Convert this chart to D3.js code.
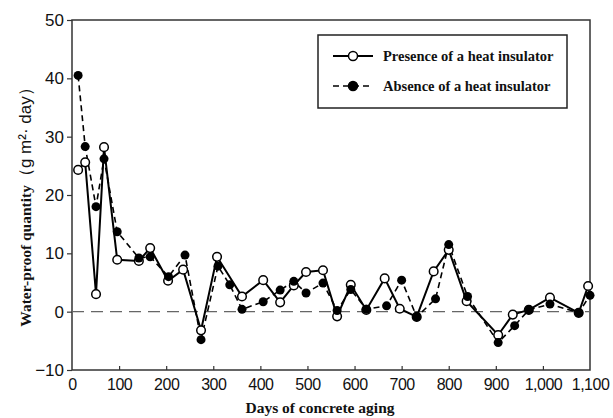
<!DOCTYPE html>
<html>
<head>
<meta charset="utf-8">
<script src="https://cdn.jsdelivr.net/npm/d3@7"></script>
<style>
  body { margin: 0; background: #fff; }
  svg { display: block; }
</style>
</head>
<body>
<div id="chart"></div>
<script>
// days and values
const presenceDays = [13, 28, 51, 68, 96, 142, 166, 204, 236, 274, 308, 361, 406, 442, 471, 497, 533, 563, 592, 625, 664, 696, 732, 768, 800, 838, 905, 936, 970, 1015, 1076, 1096];
const presenceVals = [24.3, 25.6, 3.0, 28.2, 8.9, 8.7, 10.9, 5.3, 7.2, -3.2, 9.4, 2.6, 5.4, 1.6, 4.5, 6.8, 7.1, -0.8, 4.6, 0.3, 5.7, 0.5, -0.9, 6.9, 10.6, 1.8, -4.0, -0.5, 0.3, 2.4, -0.2, 4.4];

const absenceDays = [13, 28, 51, 68, 96, 142, 166, 205, 240, 274, 310, 335, 361, 406, 442, 471, 497, 533, 563, 592, 625, 668, 700, 732, 772, 800, 840, 905, 940, 970, 1015, 1076, 1100];
const absenceVals = [40.5, 28.3, 18.0, 26.2, 13.7, 9.2, 9.4, 6.0, 9.7, -4.8, 7.8, 4.6, 0.4, 1.7, 3.7, 5.2, 3.2, 4.9, 0.2, 3.8, 0.4, 1.0, 5.4, -0.9, 2.2, 11.5, 2.6, -5.3, -2.4, 0.3, 1.3, -0.2, 2.8];

const xTicks = [0, 100, 200, 300, 400, 500, 600, 700, 800, 900, 1000, 1100];
const yTicks = [-10, 0, 10, 20, 30, 40, 50];

const seriesNames = ["Presence of a heat insulator", "Absence of a heat insulator"];

const width = 613, height = 418;
const margin = {top: 20, right: 23, bottom: 48, left: 72};

const svg = d3.select("#chart").append("svg")
  .attr("width", width)
  .attr("height", height);

const x = d3.scaleLinear().domain([0, 1100]).range([margin.left, width - margin.right]);
const y = d3.scaleLinear().domain([-10, 50]).range([height - margin.bottom, margin.top]);

const tickFont = "'Liberation Sans', Arial, sans-serif";
const serif = "'Liberation Serif', 'Times New Roman', serif";

// frame
svg.append("rect")
  .attr("x", x(0)).attr("y", y(50))
  .attr("width", x(1100) - x(0)).attr("height", y(-10) - y(50))
  .attr("fill", "none").attr("stroke", "#333").attr("stroke-width", 1.5);

// zero line
svg.append("line")
  .attr("x1", x(0)).attr("x2", x(1100))
  .attr("y1", y(0)).attr("y2", y(0))
  .attr("stroke", "#666").attr("stroke-width", 1.2)
  .attr("stroke-dasharray", "12,7");

// x axis
const xAxis = svg.append("g")
  .attr("transform", "translate(0," + y(-10) + ")")
  .call(d3.axisBottom(x).tickValues(xTicks).tickSizeInner(-4).tickSizeOuter(0)
    .tickFormat(d => d3.format(",")(d)));
xAxis.select(".domain").remove();
xAxis.selectAll(".tick line").attr("stroke", "#333").attr("stroke-width", 1.2)
  .filter(d => d === 0 || d === 1100).remove();
xAxis.selectAll(".tick text")
  .attr("y", 9)
  .attr("font-family", tickFont).attr("font-size", 16).attr("fill", "#111")
  .attr("letter-spacing", -0.5);

// y axis
const yAxis = svg.append("g")
  .attr("transform", "translate(" + x(0) + ",0)")
  .call(d3.axisLeft(y).tickValues(yTicks).tickSizeInner(5).tickSizeOuter(0)
    .tickFormat(d => d < 0 ? "\u2212" + Math.abs(d) : d));
yAxis.select(".domain").remove();
yAxis.selectAll(".tick line").attr("stroke", "#333").attr("stroke-width", 1.2);
yAxis.selectAll(".tick text")
  .attr("x", -8)
  .attr("font-family", tickFont).attr("font-size", 17).attr("fill", "#111");

// axis titles
svg.append("text")
  .attr("x", 320).attr("y", 413)
  .attr("text-anchor", "middle")
  .attr("font-family", serif).attr("font-weight", "bold").attr("font-size", 15.5)
  .attr("fill", "#111")
  .text("Days of concrete aging");

const yTitle = svg.append("text")
  .attr("transform", "translate(31,203) rotate(-90)")
  .attr("text-anchor", "middle")
  .attr("fill", "#111");
yTitle.append("tspan")
  .attr("font-family", serif).attr("font-weight", "bold").attr("font-size", 15.5)
  .text("Water-proof quantity");
yTitle.append("tspan")
  .attr("font-family", tickFont).attr("font-size", 17)
  .text("（g  m²· day）");

// lines
const presence = presenceDays.map((d, i) => [d, presenceVals[i]]);
const absence = absenceDays.map((d, i) => [d, absenceVals[i]]);

const line = d3.line().x(d => x(d[0])).y(d => y(d[1]));

svg.append("path")
  .datum(absence)
  .attr("d", line)
  .attr("fill", "none").attr("stroke", "#000").attr("stroke-width", 1.6)
  .attr("stroke-dasharray", "6,4");

svg.append("path")
  .datum(presence)
  .attr("d", line)
  .attr("fill", "none").attr("stroke", "#000").attr("stroke-width", 2);

svg.append("g").selectAll("circle")
  .data(presence).enter().append("circle")
  .attr("cx", d => x(d[0])).attr("cy", d => y(d[1])).attr("r", 4.3)
  .attr("fill", "#fff").attr("stroke", "#000").attr("stroke-width", 1.5);

svg.append("g").selectAll("circle")
  .data(absence).enter().append("circle")
  .attr("cx", d => x(d[0])).attr("cy", d => y(d[1])).attr("r", 4.5)
  .attr("fill", "#000");

// legend
const legend = svg.append("g");
legend.append("rect")
  .attr("x", 318).attr("y", 35).attr("width", 249).attr("height", 73)
  .attr("fill", "#fff").attr("stroke", "#222").attr("stroke-width", 1.5);

const items = legend.selectAll("g.item")
  .data(seriesNames).enter().append("g")
  .attr("class", "item")
  .attr("transform", (d, i) => "translate(0," + (56 + i * 30) + ")");

items.append("line")
  .attr("x1", 333).attr("x2", 373)
  .attr("stroke", "#000")
  .attr("stroke-width", (d, i) => i === 0 ? 2 : 1.6)
  .attr("stroke-dasharray", (d, i) => i === 0 ? null : "6,4");

items.append("circle")
  .attr("cx", 353).attr("r", 4.5)
  .attr("fill", (d, i) => i === 0 ? "#fff" : "#000")
  .attr("stroke", "#000").attr("stroke-width", 1.5);

items.append("text")
  .attr("x", 383).attr("dy", "0.35em")
  .attr("font-family", serif).attr("font-weight", "bold").attr("font-size", 14.5)
  .attr("fill", "#111")
  .text(d => d);
</script>
</body>
</html>
